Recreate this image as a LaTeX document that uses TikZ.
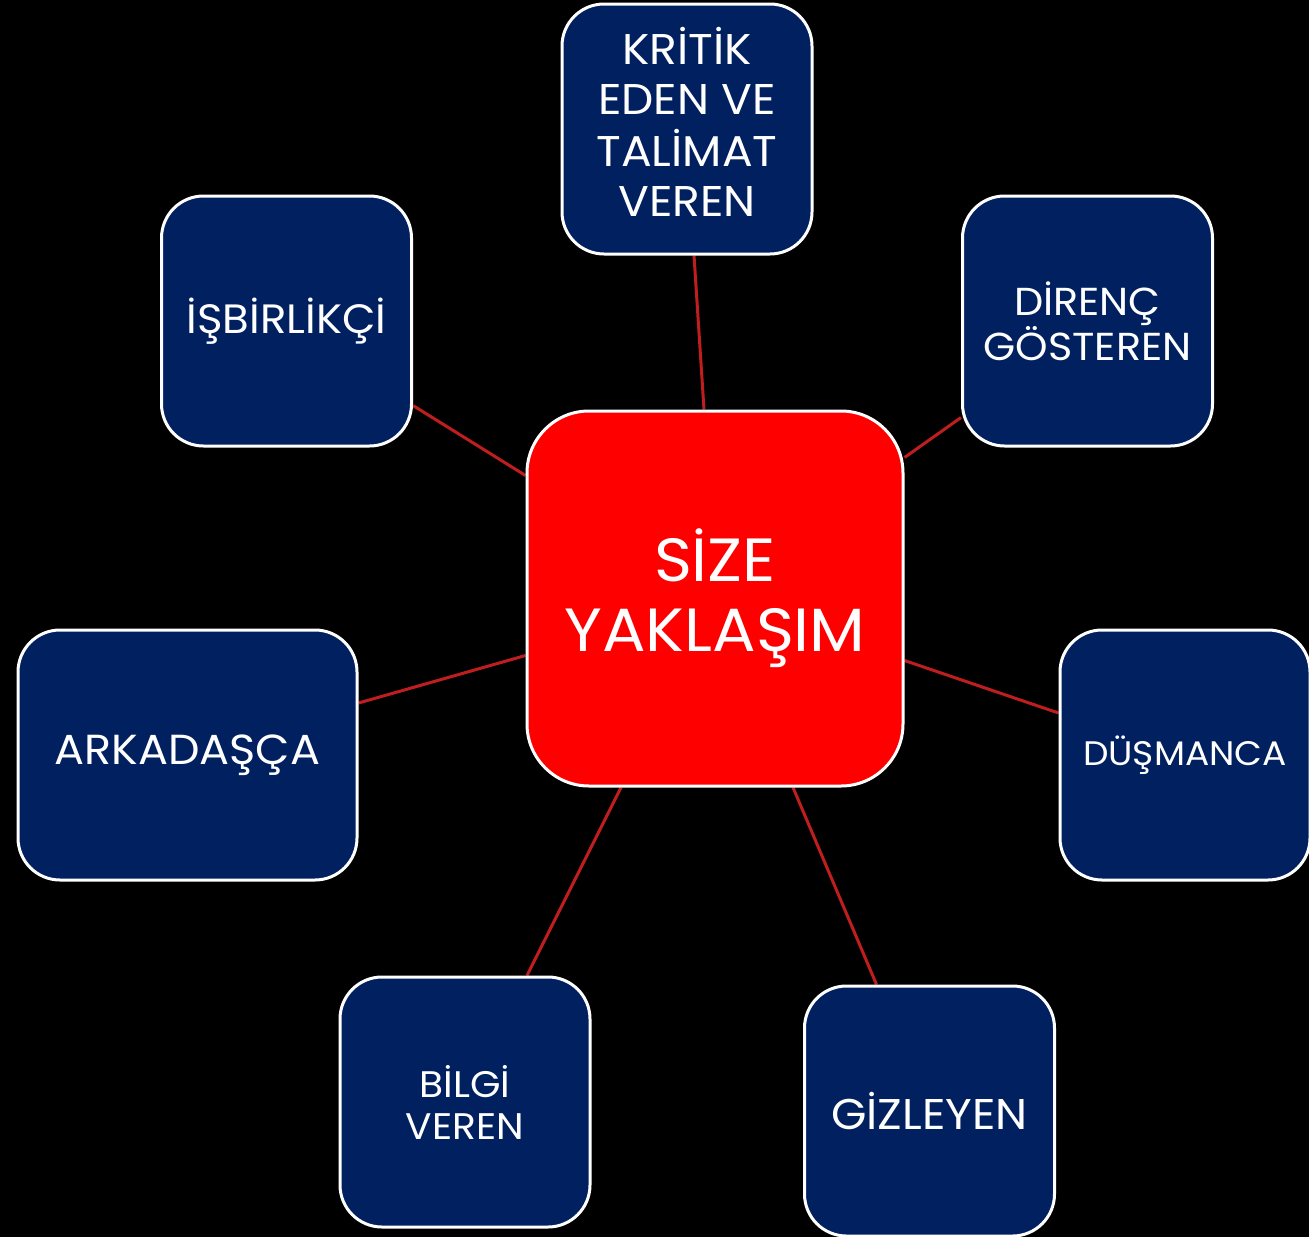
\documentclass[tikz,border=0pt]{standalone}
\usepackage{fontspec}
\setmainfont{Poppins}[FakeStretch=1.06]
\usetikzlibrary{backgrounds}
\definecolor{navybox}{RGB}{0,32,96}
\definecolor{redbox}{RGB}{255,0,0}
\definecolor{linkred}{RGB}{190,30,30}
\newcommand{\fs}[2]{\fontsize{#1}{#2}\selectfont}
\tikzset{
  box/.style={draw=white, line width=3pt, fill=navybox, text=white, rounded corners=42pt,
    minimum width=250pt, minimum height=250pt, inner sep=0pt, align=center},
  hub/.style={draw=white, line width=3pt, fill=redbox, text=white, rounded corners=62pt,
    minimum width=376pt, minimum height=375pt, inner sep=0pt, align=center},
  link/.style={draw=linkred, line width=3pt}
}
\begin{document}
\begin{tikzpicture}[x=1pt,y=-1pt]
\useasboundingbox (0,0) rectangle (1309,1237);
\node[hub, font=\fs{61}{70}] (hub) at (715,598.5) {SİZE\\YAKLAŞIM};
\node[box, font=\fs{43}{50}] (kritik) at (687,129) {\raisebox{4pt}{\begin{tabular}{@{}c@{}}KRİTİK\\EDEN VE\\TALİMAT\\VEREN\end{tabular}}};
\node[box, font=\fs{39}{43}] (direnc) at (1087.5,321) {DİRENÇ\\GÖSTEREN};
\node[box, font=\fs{41}{45}] (isbir) at (286.5,321) {İŞBİRLİKÇİ};
\node[box, minimum width=339pt, font=\fs{42}{46}] (ark) at (187.5,755) {ARKADAŞÇA};
\node[box, font=\fs{34}{38}] (dus) at (1185,755) {DÜŞMANCA};
\node[box, font=\fs{37}{42}] (bilgi) at (465,1102) {BİLGİ\\VEREN};
\node[box, font=\fs{43}{47}] (gizle) at (929.5,1111) {GİZLEYEN};
\begin{scope}[on background layer]
\fill[black] (0,0) rectangle (1309,1237);
\draw[link] ([xshift=7pt]kritik.south) -- ([xshift=-11pt]hub.north);
\draw[link] ([yshift=30pt]direnc.south west) -- ([yshift=-48pt]hub.north east);
\draw[link] ([yshift=42pt]isbir.south east) -- ([yshift=-66pt]hub.north west);
\draw[link] ([yshift=52pt]ark.east) -- ([yshift=-57pt]hub.west);
\draw[link] ([yshift=-62pt]hub.east) -- ([yshift=42pt]dus.west);
\draw[link] ([xshift=-94pt]hub.south) -- ([xshift=62pt]bilgi.north);
\draw[link] ([xshift=78pt]hub.south) -- ([xshift=-53pt]gizle.north);
\end{scope}
\end{tikzpicture}
\end{document}
